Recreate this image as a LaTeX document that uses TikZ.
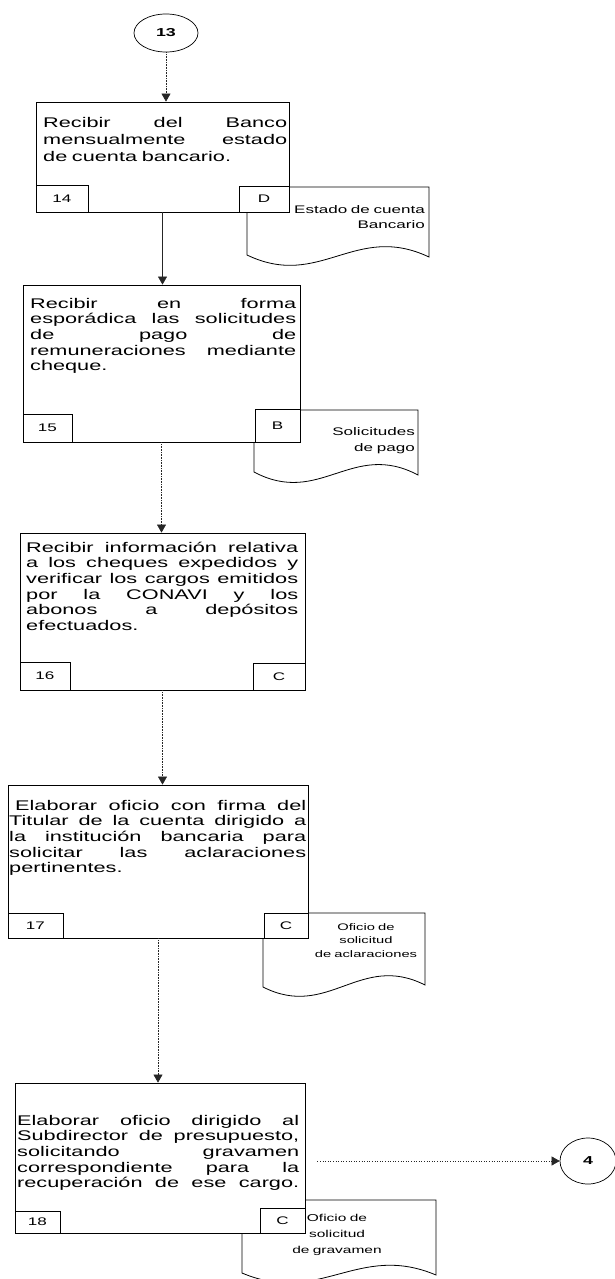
\documentclass[tikz,border=0pt]{standalone}
\usepackage{fontspec}
\setmainfont[FakeStretch=1.55]{Liberation Sans}
\usetikzlibrary{arrows.meta,shapes.geometric}
\newlength{\jw}
\newcommand{\jl}[1]{\noindent\hbox to \jw{#1}}
\newcommand{\sk}{\hfill}
\begin{document}
\begin{tikzpicture}[x=1pt,y=-1pt,
  box/.style={draw,line width=0.8pt,fill=white,inner sep=0pt,rectangle},
  tag/.style={draw,line width=0.7pt,fill=white,inner sep=0pt,font=\fontsize{11}{12}\selectfont},
  body/.style={inner sep=0pt,align=left,font=\fontsize{14}{15.7}\selectfont},
  doclbl/.style={inner sep=0pt},
  flow/.style={line width=0.6pt,black!85,-{Triangle[width=9pt,length=8pt]}},
  docshape/.style={draw,line width=0.8pt,fill=white},
  conn/.style={ellipse,draw,line width=0.7pt,inner sep=0pt,font=\bfseries\fontsize{11.5}{12}\selectfont}]
\useasboundingbox (0,0) rectangle (614,1279);

% documents (behind the boxes)
\draw[docshape] (247,187) -- (429,187) -- (429,257) .. controls (355,222) and (320,290) .. (247,255) -- cycle;
\draw[docshape] (254,410) -- (418,410) -- (418,475) .. controls (352,440) and (320,507) .. (254,472) -- cycle;
\draw[docshape] (263,913) -- (425,913) -- (425,985) .. controls (360,952) and (328,1020) .. (263,987) -- cycle;
\draw[docshape] (242,1200) -- (436,1200) -- (436,1275) .. controls (358,1242) and (320,1306) .. (242,1273) -- cycle;

% connector circles
\node[conn,minimum width=64pt,minimum height=38pt] (c13) at (166,33) {13};
\node[conn,minimum width=56pt,minimum height=46pt] (c4) at (588,1161) {4};

% boxes
\node[box,minimum width=253pt,minimum height=110pt] (b14) at (162.5,157) {};
\node[box,minimum width=277pt,minimum height=157pt] (b15) at (161.5,363.5) {};
\node[box,minimum width=285pt,minimum height=157pt] (b16) at (162.5,611.5) {};
\node[box,minimum width=300pt,minimum height=153pt] (b17) at (158,861.5) {};
\node[box,minimum width=290pt,minimum height=150pt] (b18) at (160,1158) {};

% tags
\node[tag,minimum width=52pt,minimum height=27pt,anchor=south west] (n14) at (b14.south west) {14};
\node[tag,minimum width=50pt,minimum height=26pt,anchor=south east] (k14) at (b14.south east) {D};
\node[tag,minimum width=49pt,minimum height=28pt,anchor=south west] (n15) at (b15.south west) {15};
\node[tag,minimum width=45pt,minimum height=33pt,anchor=south east] (k15) at (b15.south east) {B};
\node[tag,minimum width=50pt,minimum height=28pt,anchor=south west] (n16) at (b16.south west) {16};
\node[tag,minimum width=52pt,minimum height=27pt,anchor=south east] (k16) at (b16.south east) {C};
\node[tag,minimum width=55pt,minimum height=25pt,anchor=south west] (n17) at (b17.south west) {17};
\node[tag,minimum width=44pt,minimum height=25pt,anchor=south east] (k17) at (b17.south east) {C};
\node[tag,minimum width=45pt,minimum height=22pt,anchor=south west] (n18) at (b18.south west) {18};
\node[tag,minimum width=45pt,minimum height=25pt,anchor=south east] (k18) at (b18.south east) {C};

% body texts
\node[body,font=\fontsize{14}{17}\selectfont,text width=244pt,anchor=base west] (t14) at (43,128)
  {\setlength{\jw}{244pt}\jl{Recibir\sk del\sk Banco}\\ \jl{mensualmente\sk estado}\\ de cuenta bancario.};
\node[body,text width=266pt,anchor=base west] (t15) at (30,308)
  {\setlength{\jw}{266pt}\jl{Recibir\sk en\sk forma}\\ \jl{esporádica\sk las\sk solicitudes}\\ \jl{de\sk pago\sk de}\\ \jl{remuneraciones\sk mediante}\\ cheque.};
\node[body,text width=272pt,anchor=base west] (t16) at (26,552)
  {\setlength{\jw}{272pt}\jl{Recibir\sk información\sk relativa}\\ \jl{a\sk los\sk cheques\sk expedidos\sk y}\\ \jl{verificar\sk los\sk cargos\sk emitidos}\\ \jl{por\sk la\sk CONAVI\sk y\sk los}\\ \jl{abonos\sk a\sk depósitos}\\ efectuados.};
\node[body,text width=297pt,anchor=base west] (t17) at (9,810)
  {\setlength{\jw}{297pt}\jl{\hspace*{6pt}Elaborar\sk oficio\sk con\sk firma\sk del}\\ \jl{Titular\sk de\sk la\sk cuenta\sk dirigido\sk a}\\ \jl{la\sk institución\sk bancaria\sk para}\\ \jl{solicitar\sk las\sk aclaraciones}\\ pertinentes.};
\node[body,text width=282pt,anchor=base west] (t18) at (17,1125)
  {\setlength{\jw}{282pt}\jl{Elaborar\sk oficio\sk dirigido\sk al}\\ \jl{Subdirector\sk de\sk presupuesto,}\\ \jl{solicitando\sk gravamen}\\ \jl{correspondiente\sk para\sk la}\\ \jl{recuperación\sk de\sk ese\sk cargo.}};

% document labels
\node[doclbl,font=\fontsize{11}{15}\selectfont,text width=150pt,align=right,anchor=base east] (d14) at (425,213) {Estado de cuenta\\Bancario};
\node[doclbl,font=\fontsize{11}{16}\selectfont,text width=120pt,align=right,anchor=base east] (d15) at (415,435) {Solicitudes\\de pago};
\node[doclbl,font=\fontsize{9.5}{13.5}\selectfont,text width=140pt,align=center,anchor=base] (d17) at (366,930) {Oficio de\\solicitud\\de aclaraciones};
\node[doclbl,font=\fontsize{10}{16}\selectfont,text width=140pt,align=center,anchor=base] (d18) at (337,1221) {Oficio de\\solicitud\\de gravamen};

% flow connectors
\draw[flow,densely dotted] (c13) -- (c13 |- b14.north);
\draw[flow] (b14.south) -- (b14.south |- b15.north);
\draw[flow,densely dotted] (b15.south) -- (b15.south |- b16.north);
\draw[flow,densely dotted] (b16.south) -- (b16.south |- b17.north);
\draw[flow,densely dotted] (b17.south) -- (b17.south |- b18.north);
\draw[flow,dotted,shorten <=12pt] (c4.west -| b18.east) -- (c4.west);
\end{tikzpicture}
\end{document}
